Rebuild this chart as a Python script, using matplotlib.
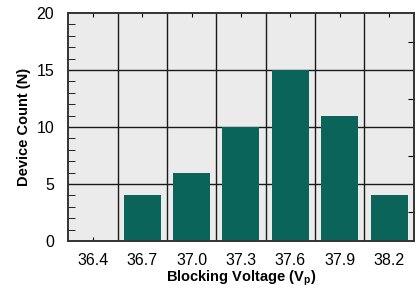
import matplotlib
matplotlib.use('Agg')
import matplotlib.pyplot as plt
import numpy as np

plt.rcParams['font.family'] = ['Liberation Sans', 'DejaVu Sans']

# Datos del histograma
voltajes = ['36.4', '36.7', '37.0', '37.3', '37.6', '37.9', '38.2']
conteos = [0, 4, 6, 10, 15, 11, 4]

COLOR_BARRA = '#0b6459'
COLOR_FONDO = '#ebebeb'

fig = plt.figure(figsize=(4.18, 2.90), dpi=100)
ax = fig.add_axes([0.163, 0.169, 0.827, 0.786])
ax.set_facecolor(COLOR_FONDO)

x = np.arange(len(voltajes))
ax.bar(x, conteos, width=0.75, color=COLOR_BARRA, zorder=3)

ax.set_xlim(-0.5, len(voltajes) - 0.5)
ax.set_ylim(0, 20)

# Rejilla: lineas verticales entre categorias, horizontales cada 5
for xb in x[:-1] + 0.5:
    ax.axvline(xb, color='#1a1a1a', lw=1.0, zorder=1)
for yb in [5, 10, 15]:
    ax.axhline(yb, color='#1a1a1a', lw=1.0, zorder=1)

ax.set_xticks(x)
ax.set_xticklabels(voltajes)
ax.set_yticks([0, 5, 10, 15, 20])
ax.set_yticks(np.arange(0, 21, 1), minor=True)
ax.tick_params(axis='both', labelsize=11.5, direction='in', length=0)
ax.tick_params(axis='x', length=3, top=True, bottom=True, pad=9)
ax.tick_params(axis='y', pad=10)
ax.tick_params(axis='y', which='minor', length=5, direction='in', left=True, right=False)

ax.set_xlabel('Blocking Voltage (V$_\\mathregular{p}$)', fontsize=10.5, fontweight='bold', labelpad=0)
ax.set_ylabel('Device Count (N)', fontsize=10.5, fontweight='bold', labelpad=4)

# Marcas derechas a mitad de intervalo
ax2 = ax.twinx()
ax2.set_ylim(0, 20)
ax2.set_yticks([2.5, 7.5, 12.5, 17.5])
ax2.tick_params(axis='y', direction='in', length=4, labelright=False)

for a in (ax, ax2):
    for s in a.spines.values():
        s.set_color('#333333')
        s.set_linewidth(1.2)

fig.savefig('out.png', dpi=100, facecolor='white')
